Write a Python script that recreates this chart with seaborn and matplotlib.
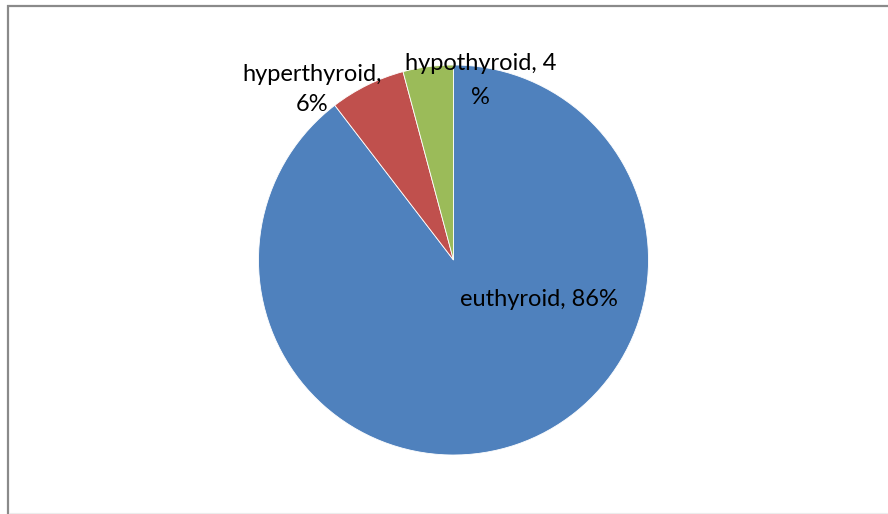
import matplotlib
matplotlib.use("Agg")
import matplotlib.pyplot as plt
from matplotlib.lines import Line2D
import seaborn as sns

categories = ["euthyroid", "hyperthyroid", "hypothyroid"]
values = [86, 6, 4]
colors = ["#4F81BD", "#C0504D", "#9BBB59"]

sns.set_theme(style="white")
plt.rcParams["font.family"] = ["Lato", "DejaVu Sans"]

W, H = 888, 514
fig = plt.figure(figsize=(W / 100, H / 100), dpi=100)
ax = fig.add_axes([0, 0, 1, 1])

# pie drawn in pixel space; y is flipped so counterclock=True runs clockwise on screen
cx, cy, r = 453.5, 260, 195
ax.pie(values, colors=colors, startangle=-90, counterclock=True,
       center=(cx, cy), radius=r, frame=True,
       wedgeprops=dict(linewidth=0.6, edgecolor="white"))
ax.set_xlim(0, W)
ax.set_ylim(H, 0)
ax.set_aspect("equal")
ax.axis("off")

fs = 17
ax.text(538.5, 306, f"{categories[0]}, {values[0]}%", ha="center", va="baseline",
        fontsize=fs, color="black")
ax.text(312, 89.5, f"{categories[1]},\n{values[1]}%", ha="center", va="center",
        fontsize=fs, color="black", multialignment="center", linespacing=1.52)
ax.text(480.5, 80.5, f"{categories[2]}, {values[2]}\n%", ha="center", va="center",
        fontsize=fs, color="black", multialignment="center", linespacing=1.72)

# chart area border (left and top edges visible)
ax.add_line(Line2D([8, 8], [5, H], color="#8a8a8a", linewidth=1.6, solid_capstyle="butt"))
ax.add_line(Line2D([7, W], [6, 6], color="#8a8a8a", linewidth=1.6, solid_capstyle="butt"))
ax.add_line(Line2D([9, W], [513, 513], color="#ececec", linewidth=0.8))

fig.savefig("out.png", dpi=100, facecolor="white")
